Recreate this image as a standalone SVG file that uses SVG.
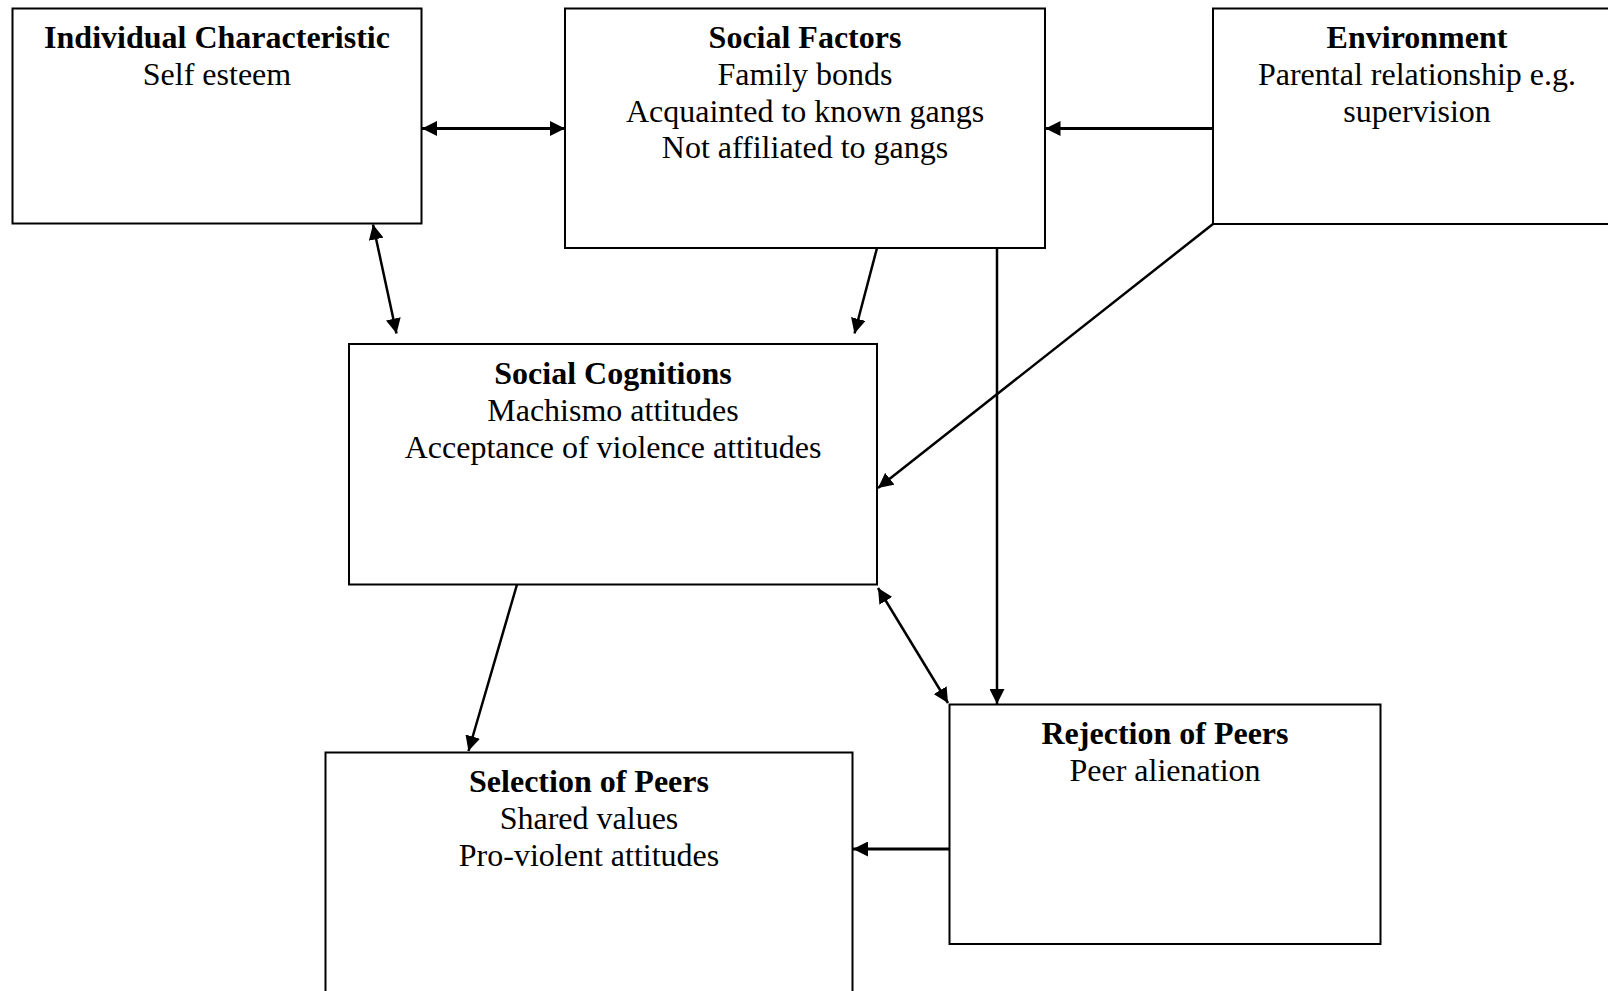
<svg xmlns="http://www.w3.org/2000/svg" width="1608" height="991" viewBox="0 0 1608 991">
<style>
.box{fill:#fff;stroke:#000;stroke-width:2}
.t{font-family:"Liberation Serif","Times New Roman",serif;font-size:32px;text-anchor:middle;fill:#000}
.b{font-weight:bold}
.c{fill:none;stroke:#000;stroke-width:2.5}
.h{stroke-width:3}
</style>
<defs>
<marker id="ah" markerUnits="userSpaceOnUse" markerWidth="15" markerHeight="15" refX="15" refY="7.5" orient="auto-start-reverse" viewBox="0 0 15 15">
<path d="M0,0 L15,7.5 L0,15 z" fill="#000"/>
</marker>
</defs>
<rect width="1608" height="991" fill="#fff"/>
<g id="individual">
<rect class="box" x="12.5" y="8.5" width="409" height="215"/>
<text class="t b" x="217" y="48">Individual Characteristic</text>
<text class="t" x="217" y="85">Self esteem</text>
</g>
<g id="social-factors">
<rect class="box" x="565" y="8.5" width="480" height="239.5"/>
<text class="t b" x="805" y="48">Social Factors</text>
<text class="t" x="805" y="85">Family bonds</text>
<text class="t" x="805" y="121.5">Acquainted to known gangs</text>
<text class="t" x="805" y="158">Not affiliated to gangs</text>
</g>
<g id="environment">
<rect class="box" x="1213" y="8.5" width="410" height="215.5"/>
<text class="t b" x="1417" y="48">Environment</text>
<text class="t" x="1417" y="85">Parental relationship e.g.</text>
<text class="t" x="1417" y="121.5">supervision</text>
</g>
<g id="social-cognitions">
<rect class="box" x="349" y="344" width="528" height="240.5"/>
<text class="t b" x="613" y="384">Social Cognitions</text>
<text class="t" x="613" y="420.5">Machismo attitudes</text>
<text class="t" x="613" y="457.5">Acceptance of violence attitudes</text>
</g>
<g id="rejection">
<rect class="box" x="949.5" y="704.5" width="431" height="239.5"/>
<text class="t b" x="1165" y="743.5">Rejection of Peers</text>
<text class="t" x="1165" y="780.5">Peer alienation</text>
</g>
<g id="selection">
<rect class="box" x="325.5" y="752.5" width="527" height="300"/>
<text class="t b" x="589" y="791.5">Selection of Peers</text>
<text class="t" x="589" y="828.5">Shared values</text>
<text class="t" x="589" y="865.5">Pro-violent attitudes</text>
</g>
<g id="connectors">
<line class="c h" x1="422" y1="128.5" x2="565" y2="128.5" marker-start="url(#ah)" marker-end="url(#ah)"/>
<line class="c h" x1="1213" y1="128.5" x2="1045.5" y2="128.5" marker-end="url(#ah)"/>
<line class="c" x1="373" y1="224.5" x2="396.5" y2="333.5" marker-start="url(#ah)" marker-end="url(#ah)"/>
<line class="c" x1="877" y1="248" x2="854.5" y2="333.5" marker-end="url(#ah)"/>
<line class="c" x1="997" y1="248" x2="997" y2="704" marker-end="url(#ah)"/>
<line class="c" x1="1213" y1="224" x2="878" y2="488" marker-end="url(#ah)"/>
<line class="c" x1="878" y1="588" x2="948" y2="703" marker-start="url(#ah)" marker-end="url(#ah)"/>
<line class="c" x1="517" y1="584.5" x2="468.5" y2="751" marker-end="url(#ah)"/>
<line class="c h" x1="949.5" y1="849" x2="853" y2="849" marker-end="url(#ah)"/>
</g>
</svg>
